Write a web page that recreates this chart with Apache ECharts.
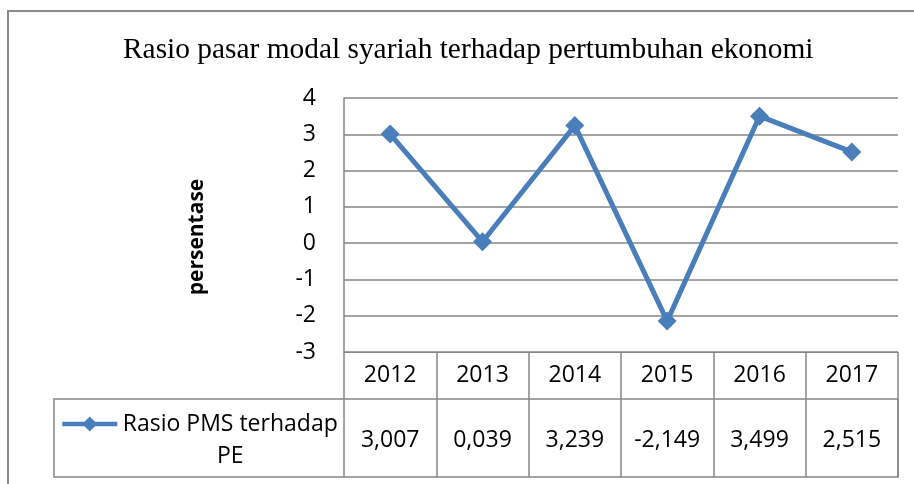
<!DOCTYPE html>
<html>
<head>
<meta charset="utf-8">
<script src="https://cdn.jsdelivr.net/npm/echarts@6/dist/echarts.min.js"></script>
<style>
  html, body { margin: 0; padding: 0; background: #fff; }
  #chart { width: 914px; height: 484px; }
</style>
</head>
<body>
<div id="chart"></div>
<script>
// data
var years = ['2012', '2013', '2014', '2015', '2016', '2017'];
var rasioPMS = [3.007, 0.039, 3.239, -2.149, 3.499, 2.515];
var yTicks = { min: -3, max: 4, interval: 1 };
var seriesName = 'Rasio PMS terhadap PE';

// table row text: "3,007" style (comma decimals)
var tableValues = rasioPMS.map(function (v) {
  return v.toFixed(3).replace('.', ',');
});

var gridCol = '#868686';
var lineCol = '#4a7ebb';
var sans = 'Open Sans';

var chart = echarts.init(document.getElementById('chart'));
chart.setOption({
  animation: false,
  backgroundColor: '#fff',
  title: {
    text: 'Rasio pasar modal syariah terhadap pertumbuhan ekonomi',
    left: 118,
    top: 31,
    textStyle: { fontFamily: 'Liberation Serif', fontSize: 29.4, fontWeight: 'normal', color: '#000' }
  },
  legend: {
    left: 55,
    top: 371,
    itemWidth: 55,
    itemHeight: 19,
    itemGap: 4,
    data: [seriesName],
    lineStyle: { width: 4.5 },
    formatter: function () {
      return '{a|}\n{a|Rasio PMS terhadap}\n{a|PE}';
    },
    textStyle: {
      fontFamily: sans, fontSize: 23, color: '#000', lineHeight: 32,
      rich: { a: { width: 216, align: 'center', fontFamily: sans, fontSize: 23, lineHeight: 32, color: '#000' } }
    }
  },
  grid: { left: 344, right: 16, top: 98, bottom: 132 },
  xAxis: [
    {
      type: 'category',
      data: years,
      boundaryGap: true,
      axisLine: { show: true, onZero: false, lineStyle: { color: gridCol, width: 1 } },
      axisTick: { show: true, length: 125, lineStyle: { color: gridCol, width: 1.5 } },
      axisLabel: { margin: 12, fontFamily: sans, fontSize: 23, color: '#000' }
    },
    {
      type: 'category',
      data: tableValues,
      position: 'bottom',
      offset: 47,
      axisLine: { show: false, onZero: false },
      axisTick: { show: false },
      axisLabel: { margin: 30, fontFamily: sans, fontSize: 23, color: '#000' }
    }
  ],
  yAxis: {
    type: 'value',
    min: yTicks.min,
    max: yTicks.max,
    interval: yTicks.interval,
    name: 'persentase',
    nameLocation: 'middle',
    nameRotate: 90,
    nameGap: 136,
    nameTextStyle: { fontFamily: sans, fontSize: 21, fontWeight: 'bold', color: '#000', padding: [0, 24, 0, 0] },
    axisLine: { show: true, lineStyle: { color: gridCol, width: 1.5 } },
    axisTick: { show: false },
    splitLine: { lineStyle: { color: gridCol, width: 1.5 } },
    axisLabel: { margin: 28, fontFamily: sans, fontSize: 23, color: '#000' }
  },
  series: [{
    name: seriesName,
    type: 'line',
    data: rasioPMS,
    symbol: 'diamond',
    symbolSize: 19,
    color: lineCol,
    lineStyle: { color: lineCol, width: 5 },
    itemStyle: { color: lineCol }
  }],
  graphic: [
    // outer chart frame
    { type: 'rect', shape: { x: 8, y: 11, width: 930, height: 500 }, style: { fill: 'none', stroke: '#8a8a8a', lineWidth: 2 }, silent: true },
    // data table: legend key cell + value row
    { type: 'rect', shape: { x: 54, y: 399, width: 844, height: 78 }, style: { fill: 'none', stroke: gridCol, lineWidth: 1.5 }, silent: true }
  ]
});
</script>
</body>
</html>
